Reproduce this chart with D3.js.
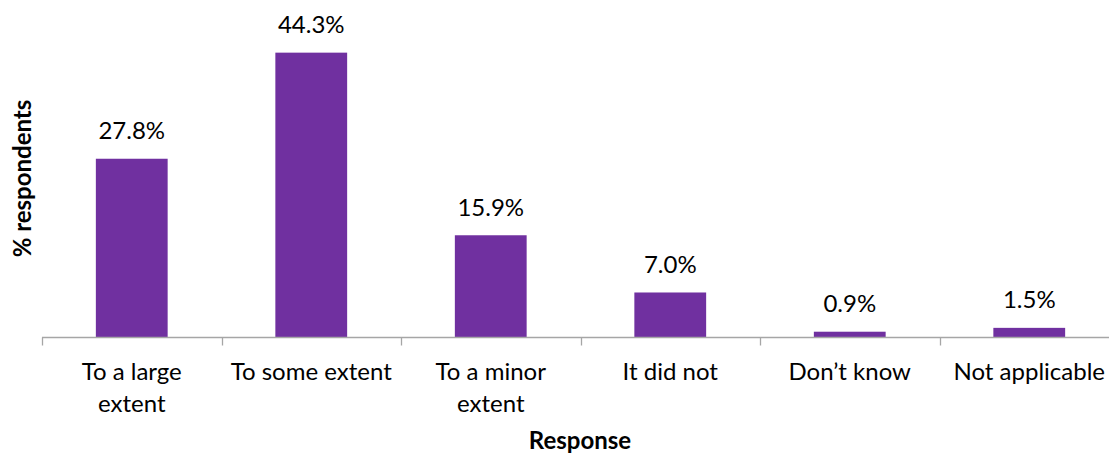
<!DOCTYPE html>
<html>
<head>
<meta charset="utf-8">
<script src="https://cdn.jsdelivr.net/npm/d3@7"></script>
<style>
  html, body { margin: 0; padding: 0; background: #fff; }
  text { font-family: Lato, "Open Sans", sans-serif; fill: #000; }
</style>
</head>
<body>
<svg id="chart" width="1109" height="455"></svg>
<script>
// Survey response shares
const categories = ["To a large extent", "To some extent", "To a minor extent", "It did not", "Don\u2019t know", "Not applicable"];
const categoryLines = [["To a large", "extent"], ["To some extent"], ["To a minor", "extent"], ["It did not"], ["Don\u2019t know"], ["Not applicable"]];
const values = [27.8, 44.3, 15.9, 7.0, 0.9, 1.5];
const valueLabels = ["27.8%", "44.3%", "15.9%", "7.0%", "0.9%", "1.5%"];

const svg = d3.select("#chart");
const plotLeft = 42, bandStep = 179.5, axisY = 337.5;

const x = d3.scaleBand()
  .domain(categories)
  .range([plotLeft, plotLeft + bandStep * categories.length])
  .paddingInner(0)
  .paddingOuter(0);

const y = d3.scaleLinear()
  .domain([0, 50])
  .range([axisY, axisY - 50 * 6.43]);

const barW = x.bandwidth() * 0.4;
const purple = "#7030A0";
const labelSize = 24;

// Bars
svg.append("g").selectAll("rect")
  .data(categories)
  .join("rect")
  .attr("x", d => x(d) + (x.bandwidth() - barW) / 2)
  .attr("width", barW)
  .attr("y", (d, i) => y(values[i]))
  .attr("height", (d, i) => y(0) - y(values[i]))
  .attr("fill", purple);

// Value labels
svg.append("g").selectAll("text")
  .data(categories)
  .join("text")
  .attr("x", d => x(d) + x.bandwidth() / 2)
  .attr("y", (d, i) => y(values[i]) - 19.5)
  .attr("text-anchor", "middle")
  .attr("font-size", labelSize)
  .text((d, i) => valueLabels[i]);

// Category axis with ticks between categories
const axisG = svg.append("g");
axisG.append("line")
  .attr("x1", x.range()[0]).attr("x2", x.range()[1])
  .attr("y1", y(0)).attr("y2", y(0))
  .attr("stroke", "#a6a6a6").attr("stroke-width", 1.3);
const boundaries = categories.map(d => x(d)).concat([x.range()[1]]);
axisG.selectAll("line.tick")
  .data(boundaries)
  .join("line")
  .attr("class", "tick")
  .attr("x1", d => Math.round(d) + 0.5).attr("x2", d => Math.round(d) + 0.5)
  .attr("y1", y(0)).attr("y2", y(0) + 8)
  .attr("stroke", "#a6a6a6").attr("stroke-width", 1.3);

// Category labels, wrapped onto two lines where long
const catG = svg.append("g");
categories.forEach((c, i) => {
  const cx = x(c) + x.bandwidth() / 2;
  const t = catG.append("text")
    .attr("x", cx)
    .attr("y", y(0) + 42.5)
    .attr("text-anchor", "middle")
    .attr("font-size", labelSize);
  categoryLines[i].forEach((ln, j) => {
    t.append("tspan")
      .attr("x", cx)
      .attr("dy", j === 0 ? 0 : 31.7)
      .text(ln);
  });
});

// Axis titles
svg.append("text")
  .attr("transform", "translate(30.5,178.5) rotate(-90)")
  .attr("text-anchor", "middle")
  .attr("font-size", 24)
  .attr("font-weight", "bold")
  .text("% respondents");

svg.append("text")
  .attr("x", 580)
  .attr("y", 449)
  .attr("text-anchor", "middle")
  .attr("font-size", 24)
  .attr("font-weight", "bold")
  .text("Response");
</script>
</body>
</html>
